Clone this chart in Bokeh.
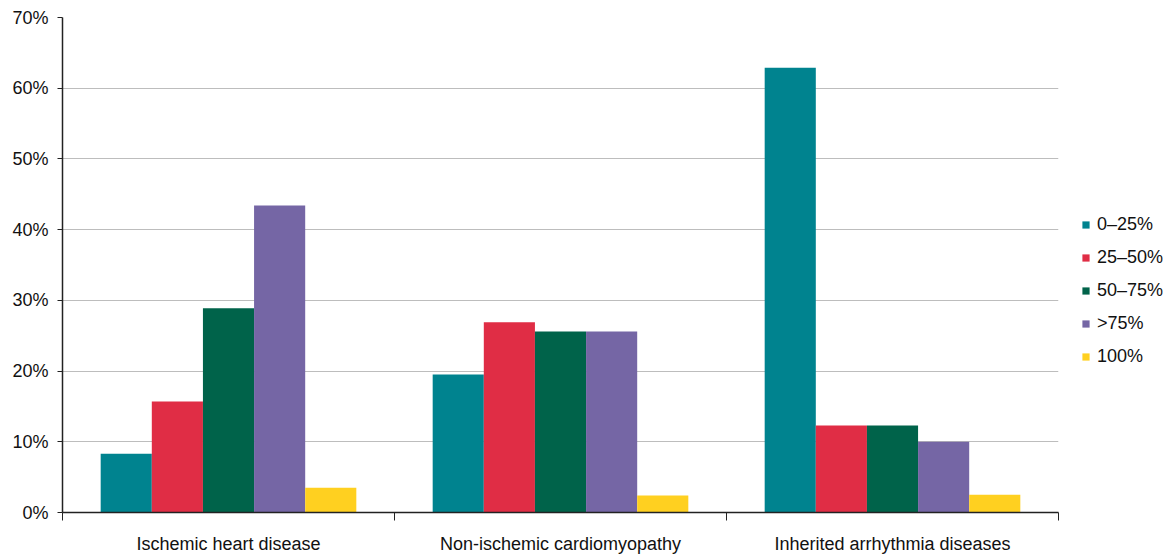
from bokeh.plotting import figure
from bokeh.models import FixedTicker, NumeralTickFormatter, Legend, LegendItem, Range1d, ColumnDataSource
from bokeh.embed import file_html
from bokeh.resources import INLINE

categories = ["Ischemic heart disease", "Non-ischemic cardiomyopathy", "Inherited arrhythmia diseases"]
series = ["0\u201325%", "25\u201350%", "50\u201375%", ">75%", "100%"]
colors = ["#00838F", "#E02D45", "#00634A", "#7566A5", "#FFD020"]
v_0_25 = [0.083, 0.195, 0.629]
v_25_50 = [0.157, 0.269, 0.123]
v_50_75 = [0.289, 0.256, 0.123]
v_75 = [0.434, 0.256, 0.100]
v_100 = [0.035, 0.024, 0.025]
values = [v_0_25, v_25_50, v_50_75, v_75, v_100]

FONT = "Liberation Sans"
bar_w = 0.154

p = figure(frame_width=996, frame_height=495, output_backend="svg", toolbar_location=None,
           x_range=Range1d(0, 3), y_range=Range1d(0, 0.7),
           min_border_left=62, min_border_top=17, min_border_bottom=44, min_border_right=110)
p.outline_line_color = None
p.background_fill_color = "white"

centers = [i + 0.5 for i in range(len(categories))]
items = []
for k, (name, col, vals) in enumerate(zip(series, colors, values)):
    xs = [c + (k - 2) * bar_w for c in centers]
    src = ColumnDataSource(dict(x=xs, top=vals))
    r = p.vbar(x="x", top="top", width=bar_w, bottom=0, source=src,
               fill_color=col, line_color=None)
    items.append(LegendItem(label=name, renderers=[r]))

# x axis
xa = p.xaxis[0]
xa.ticker = FixedTicker(ticks=centers, minor_ticks=[0, 1, 2, 3])
xa.major_label_overrides = {c: n for c, n in zip(centers, categories)}
xa.major_tick_line_color = None
xa.major_tick_out = 0
xa.major_tick_in = 0
xa.minor_tick_out = 8
xa.minor_tick_in = 0
xa.minor_tick_line_color = "#222222"
xa.axis_line_color = "#222222"
xa.axis_line_width = 1.5
xa.major_label_standoff = 13
xa.major_label_text_font = FONT
xa.major_label_text_font_size = "18px"
xa.major_label_text_color = "#111111"

# y axis
ya = p.yaxis[0]
ya.ticker = FixedTicker(ticks=[0, 0.1, 0.2, 0.3, 0.4, 0.5, 0.6, 0.7])
ya.formatter = NumeralTickFormatter(format="0%")
ya.minor_tick_line_color = None
ya.major_tick_out = 5
ya.major_tick_in = 0
ya.major_tick_line_color = "#222222"
ya.axis_line_color = "#222222"
ya.axis_line_width = 1.5
ya.major_label_standoff = 9
ya.major_label_text_font = FONT
ya.major_label_text_font_size = "18px"
ya.major_label_text_color = "#111111"

p.xgrid.grid_line_color = None
p.ygrid.grid_line_color = "#BDBDBD"
p.ygrid.grid_line_width = 1.2
p.ygrid.ticker = FixedTicker(ticks=[0.1, 0.2, 0.3, 0.4, 0.5, 0.6, 0.7])

legend = Legend(items=items, location=(23, 145))
legend.border_line_color = None
legend.background_fill_alpha = 0
legend.label_text_font = FONT
legend.label_text_font_size = "18px"
legend.label_text_color = "#111111"
legend.glyph_width = 9
legend.glyph_height = 9
legend.label_height = 20
legend.spacing = 12
legend.label_standoff = 7
legend.margin = 0
legend.padding = 0
p.add_layout(legend, "right")

open("out.html", "w").write(file_html(p, INLINE))
